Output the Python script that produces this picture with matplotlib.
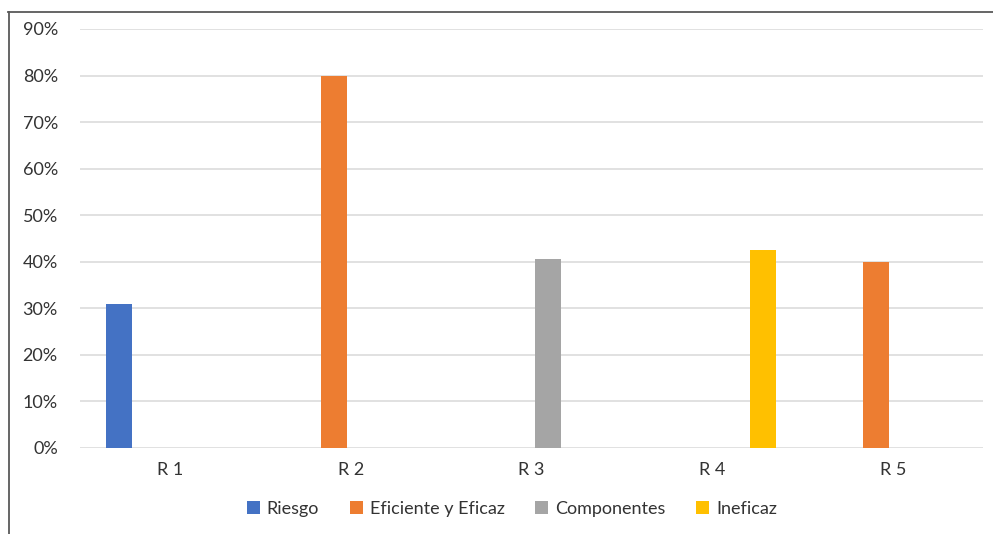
import matplotlib
matplotlib.use("Agg")
import matplotlib.pyplot as plt
from matplotlib.lines import Line2D
from matplotlib.patches import Patch
import numpy as np

categories = ["R 1", "R 2", "R 3", "R 4", "R 5"]
series_names = ["Riesgo", "Eficiente y Eficaz", "Componentes", "Ineficaz"]
riesgo = [0.31, 0.0, 0.0, 0.0, 0.0]
eficiente = [0.0, 0.80, 0.0, 0.0, 0.40]
componentes = [0.0, 0.0, 0.405, 0.0, 0.0]
ineficaz = [0.0, 0.0, 0.0, 0.425, 0.0]
yticks = [0, 0.1, 0.2, 0.3, 0.4, 0.5, 0.6, 0.7, 0.8, 0.9]
ytick_labels = ["0%", "10%", "20%", "30%", "40%", "50%", "60%", "70%", "80%", "90%"]

colors = ["#4472C4", "#ED7D31", "#A5A5A5", "#FFC000"]
series = [riesgo, eficiente, componentes, ineficaz]

plt.rcParams['font.family'] = ['Lato', 'DejaVu Sans']

fig = plt.figure(figsize=(9.93, 5.34), dpi=100)
W, H = 993, 534
ax = fig.add_axes([80 / W, 86 / H, (983 - 80) / W, (448 - 29) / H])

x = np.arange(len(categories))
width = 0.144
spacing = 0.188
for k, (vals, name, c) in enumerate(zip(series, series_names, colors)):
    ax.bar(x + (k - 1.5) * spacing, vals, width=width, color=c, label=name, zorder=3)

ax.set_xlim(-0.5, len(categories) - 0.5)
ax.set_ylim(0, 0.9)
ax.set_yticks(yticks)
ax.set_yticklabels(ytick_labels)
ax.set_xticks(x)
ax.set_xticklabels(categories)
ax.grid(axis='y', color='#D9D9D9', linewidth=1.1, zorder=0)
ax.set_axisbelow(True)
for s in ax.spines.values():
    s.set_visible(False)
ax.tick_params(axis='both', length=0, labelsize=13, colors='#333333')
ax.tick_params(axis='y', pad=16)
ax.tick_params(axis='x', pad=10)

handles = [Patch(facecolor=c, edgecolor='none') for c in colors]
fig.legend(handles, series_names, loc='center', bbox_to_anchor=(512 / W, 25 / H),
           ncol=4, frameon=False, fontsize=13, handlelength=0.7, handleheight=0.7,
           handletextpad=0.4, columnspacing=1.7, labelcolor='#333333')

# chart frame (top and left edges visible)
fig.add_artist(Line2D([8 / W, 1.0], [1 - 11.5 / H, 1 - 11.5 / H], color='#595959', linewidth=1.3))
fig.add_artist(Line2D([8.5 / W, 8.5 / W], [0, 1 - 11.5 / H], color='#595959', linewidth=1.3))

fig.savefig("out.png", dpi=100)
